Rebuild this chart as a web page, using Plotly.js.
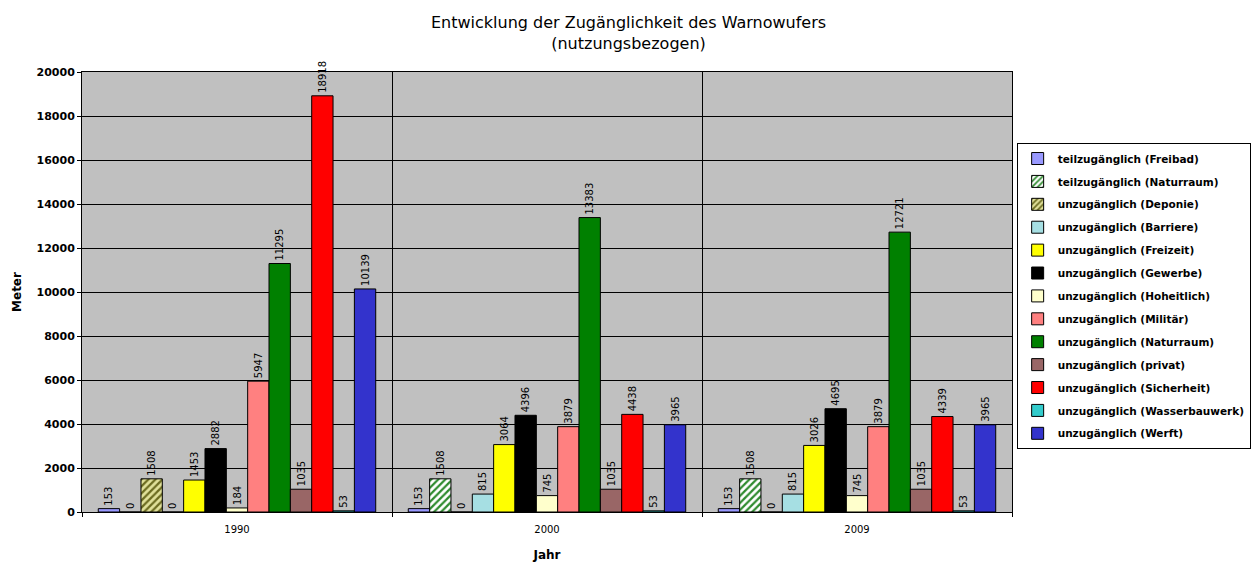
<!DOCTYPE html>
<html>
<head>
<meta charset="utf-8">
<script src="https://cdn.plot.ly/plotly-3.0.1.min.js"></script>
<style>html,body{margin:0;padding:0;background:#fff;}#chart{width:1257px;height:562px;}</style>
</head>
<body>
<div id="chart"></div>
<script>
const years = ["1990", "2000", "2009"];
const seriesNames = [
  "teilzugänglich (Freibad)",
  "teilzugänglich (Naturraum)",
  "unzugänglich (Deponie)",
  "unzugänglich (Barriere)",
  "unzugänglich (Freizeit)",
  "unzugänglich (Gewerbe)",
  "unzugänglich (Hoheitlich)",
  "unzugänglich (Militär)",
  "unzugänglich (Naturraum)",
  "unzugänglich (privat)",
  "unzugänglich (Sicherheit)",
  "unzugänglich (Wasserbauwerk)",
  "unzugänglich (Werft)"
];
const teilFreibad = [153, 153, 153];
const teilNaturraum = [0, 1508, 1508];
const unDeponie = [1508, 0, 0];
const unBarriere = [0, 815, 815];
const unFreizeit = [1453, 3064, 3026];
const unGewerbe = [2882, 4396, 4695];
const unHoheitlich = [184, 745, 745];
const unMilitaer = [5947, 3879, 3879];
const unNaturraum = [11295, 13383, 12721];
const unPrivat = [1035, 1035, 1035];
const unSicherheit = [18918, 4438, 4339];
const unWasserbauwerk = [53, 53, 53];
const unWerft = [10139, 3965, 3965];
const yTicks = [0, 2000, 4000, 6000, 8000, 10000, 12000, 14000, 16000, 18000, 20000];

const values = [teilFreibad, teilNaturraum, unDeponie, unBarriere, unFreizeit, unGewerbe,
  unHoheitlich, unMilitaer, unNaturraum, unPrivat, unSicherheit, unWasserbauwerk, unWerft];
const colors = ["#9999ff", "#ffffff", "#e0e09a", "#a6dfe3", "#ffff00", "#000000",
  "#ffffcc", "#ff8080", "#008000", "#996666", "#ff0000", "#33cccc", "#3333cc"];
const patterns = [null, {shape: "/", fgcolor: "#2e8b2e", bgcolor: "#ffffff", size: 5, solidity: 0.45},
  {shape: "/", fgcolor: "#6b6b20", bgcolor: "#e0e09a", size: 5, solidity: 0.45},
  null, null, null, null, null, null, null, null, null, null];

const FONT = "DejaVu Sans, Verdana, sans-serif";

const traces = seriesNames.map((name, i) => {
  const marker = {color: colors[i], line: {color: "#000000", width: 1}};
  if (patterns[i]) marker.pattern = patterns[i];
  return {
    type: "bar",
    name: name,
    x: years,
    y: values[i],
    marker: marker,
    text: values[i].map(String),
    textposition: "outside",
    textangle: -90,
    constraintext: "none",
    cliponaxis: false,
    textfont: {family: FONT, size: 10, color: "#000"},
    legendgroup: "g" + i,
    hoverinfo: "name+y"
  };
});

const layout = {
  width: 1257, height: 562,
  paper_bgcolor: "#ffffff",
  plot_bgcolor: "#c0c0c0",
  margin: {l: 82, r: 245, t: 72, b: 50, autoexpand: false},
  barmode: "group",
  bargap: 0.105,
  bargroupgap: 0,
  font: {family: FONT, color: "#000"},
  title: {
    text: "Entwicklung der Zugänglichkeit des Warnowufers<br>(nutzungsbezogen)",
    font: {size: 16, family: FONT},
    x: 0.5, xref: "container", y: 0.95, yref: "container", yanchor: "middle"
  },
  xaxis: {
    type: "category",
    tickson: "boundaries",
    showgrid: true, gridcolor: "#000000", gridwidth: 1,
    showline: true, linecolor: "#000000", linewidth: 1, mirror: true,
    ticks: "outside", ticklen: 4, tickcolor: "#000",
    ticklabelstandoff: 8,
    tickfont: {size: 10},
    title: {text: "Jahr", font: {size: 12, weight: "bold"}, standoff: 16}
  },
  yaxis: {
    range: [0, 20000],
    tickvals: yTicks,
    ticktext: yTicks.map(String),
    showgrid: true, gridcolor: "#000000", gridwidth: 1,
    showline: true, linecolor: "#000000", linewidth: 1, mirror: true,
    ticks: "outside", ticklen: 4, tickcolor: "#000",
    tickfont: {size: 11, weight: "bold"},
    zeroline: false,
    title: {text: "Meter", font: {size: 12, weight: "bold"}, standoff: 12}
  },
  legend: {
    x: 1.005, xanchor: "left", y: 0.8386, yanchor: "top",
    bgcolor: "#ffffff", bordercolor: "#000000", borderwidth: 1,
    font: {size: 10.5, weight: "bold"},
    tracegroupgap: 3.9,
    itemwidth: 30
  },
  showlegend: true
};

Plotly.newPlot("chart", traces, layout, {displayModeBar: false, staticPlot: true});
</script>
</body>
</html>
